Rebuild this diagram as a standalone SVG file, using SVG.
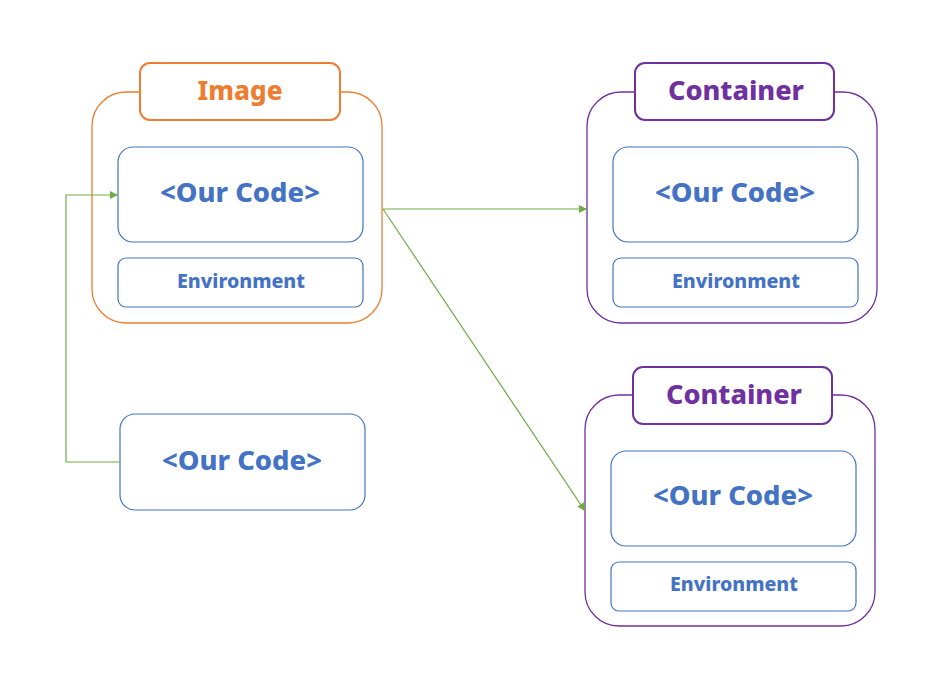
<svg xmlns="http://www.w3.org/2000/svg" width="951" height="687" viewBox="0 0 951 687">
<defs>
<style>
.bg{fill:#fff}
.outerO{fill:#fff;stroke:#ED7D31;stroke-width:1.3}
.labelO{fill:#fff;stroke:#ED7D31;stroke-width:2}
.outerP{fill:#fff;stroke:#7030A0;stroke-width:1.3}
.labelP{fill:#fff;stroke:#7030A0;stroke-width:2}
.inner{fill:#fff;stroke:#4472C4;stroke-width:1.2}
.t{font-family:"Noto Sans","DejaVu Sans",sans-serif;font-weight:800;text-anchor:middle}
.code{font-size:27px;fill:#4472C4}
.env{font-size:19px;fill:#4472C4}
.titleO{font-size:27px;fill:#ED7D31}
.titleP{font-size:27px;fill:#7030A0}
.conn{fill:none;stroke:#70AD47;stroke-width:1.2}
</style>
<marker id="arr" viewBox="0 0 10 10" refX="10" refY="5" markerWidth="8" markerHeight="8" markerUnits="userSpaceOnUse" orient="auto">
<path d="M0,0 L10,5 L0,10 z" fill="#70AD47"/>
</marker>
</defs>
<rect class="bg" x="0" y="0" width="951" height="687"/>

<g id="image">
<rect class="outerO" x="92" y="92" width="290" height="231" rx="34"/>
<rect class="labelO" x="140" y="63" width="200" height="57" rx="10"/>
<text class="t titleO" x="240" y="100" textLength="85" lengthAdjust="spacingAndGlyphs">Image</text>
<rect class="inner" x="118" y="147" width="245" height="95" rx="15"/>
<text class="t code" x="240" y="202" textLength="160" lengthAdjust="spacingAndGlyphs">&lt;Our Code&gt;</text>
<rect class="inner" x="118" y="258" width="245" height="49" rx="8"/>
<text class="t env" x="241" y="288" textLength="128" lengthAdjust="spacingAndGlyphs">Environment</text>
</g>

<g id="container1">
<rect class="outerP" x="587" y="92" width="290" height="231" rx="34"/>
<rect class="labelP" x="635" y="63" width="199" height="57" rx="10"/>
<text class="t titleP" x="736" y="100" textLength="136" lengthAdjust="spacingAndGlyphs">Container</text>
<rect class="inner" x="613" y="147" width="245" height="95" rx="15"/>
<text class="t code" x="735" y="202" textLength="160" lengthAdjust="spacingAndGlyphs">&lt;Our Code&gt;</text>
<rect class="inner" x="613" y="258" width="245" height="49" rx="8"/>
<text class="t env" x="736" y="288" textLength="128" lengthAdjust="spacingAndGlyphs">Environment</text>
</g>

<g id="container2">
<rect class="outerP" x="585" y="395" width="290" height="231" rx="34"/>
<rect class="labelP" x="633" y="367" width="199" height="57" rx="10"/>
<text class="t titleP" x="734" y="404" textLength="136" lengthAdjust="spacingAndGlyphs">Container</text>
<rect class="inner" x="611" y="451" width="245" height="95" rx="15"/>
<text class="t code" x="733" y="505" textLength="160" lengthAdjust="spacingAndGlyphs">&lt;Our Code&gt;</text>
<rect class="inner" x="611" y="562" width="245" height="49" rx="8"/>
<text class="t env" x="734" y="591" textLength="128" lengthAdjust="spacingAndGlyphs">Environment</text>
</g>

<g id="code">
<rect class="inner" x="120" y="414" width="245" height="96" rx="15"/>
<text class="t code" x="242" y="470" textLength="160" lengthAdjust="spacingAndGlyphs">&lt;Our Code&gt;</text>
</g>

<g id="connectors">
<path class="conn" d="M120,462 H66 V195 H118" marker-end="url(#arr)"/>
<path class="conn" d="M383,209 H587" marker-end="url(#arr)"/>
<path class="conn" d="M383,209 L585,511" marker-end="url(#arr)"/>
</g>
</svg>
